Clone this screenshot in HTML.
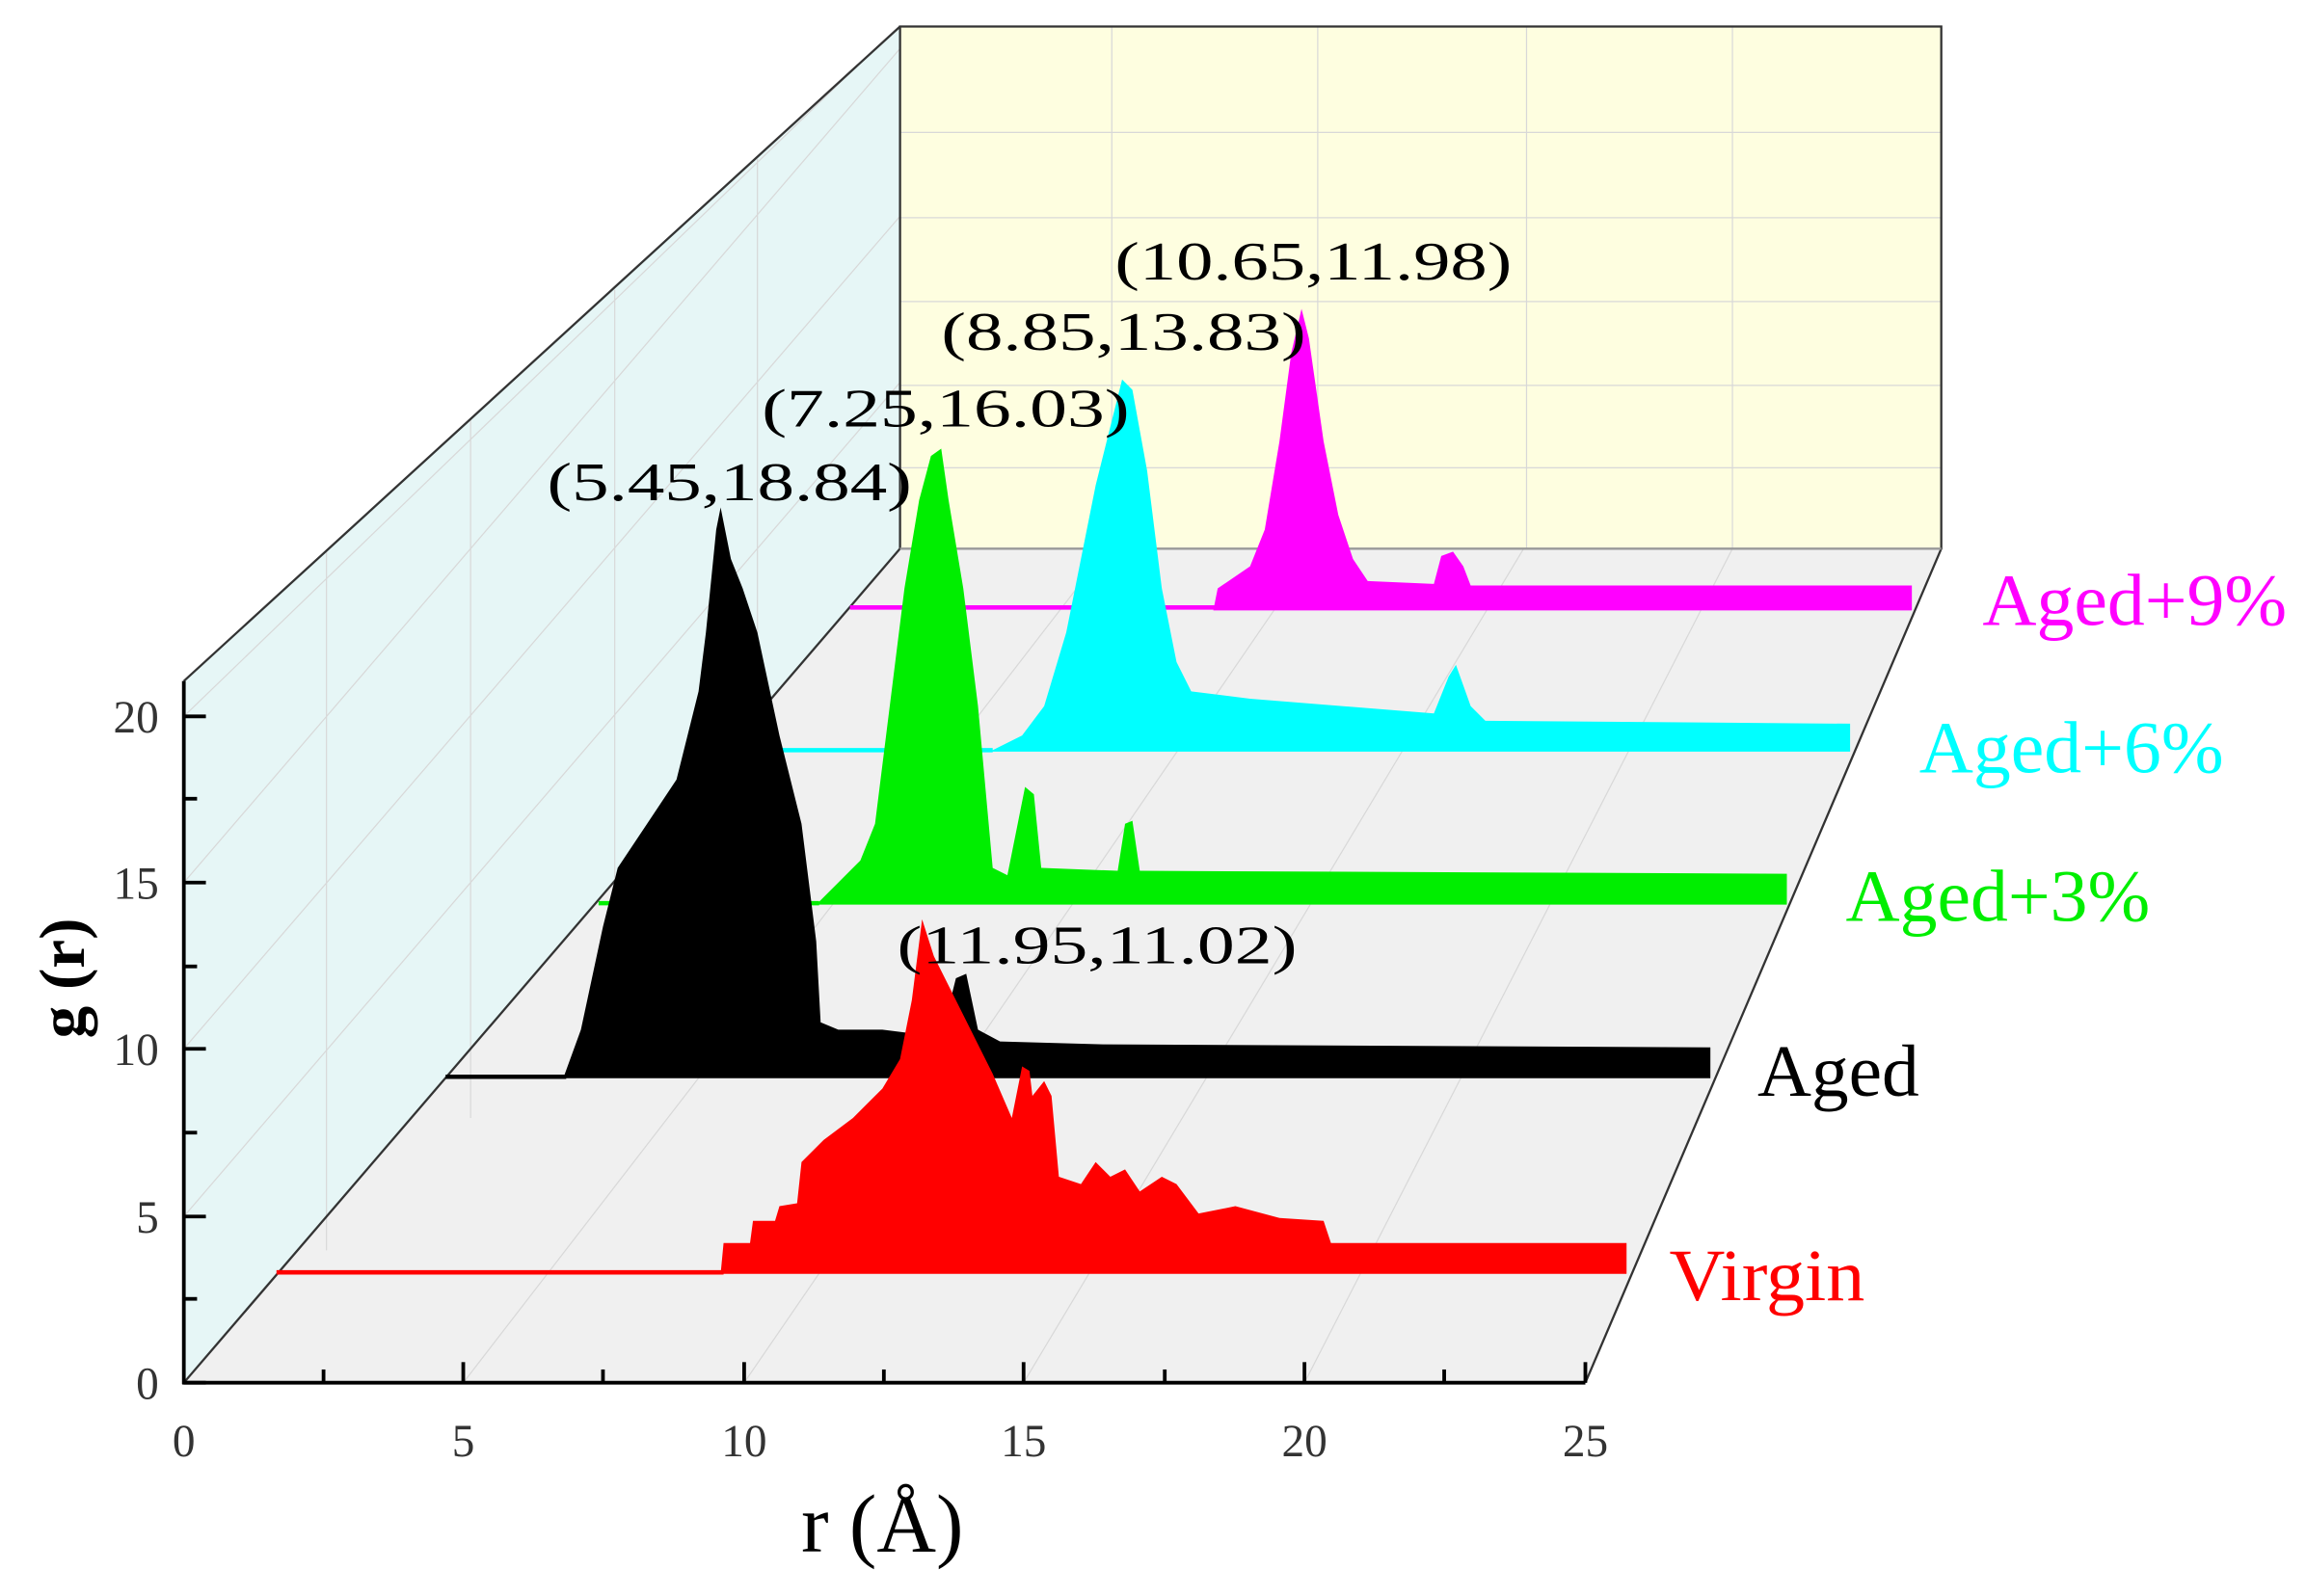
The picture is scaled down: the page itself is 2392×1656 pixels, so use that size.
<!DOCTYPE html>
<html><head><meta charset="utf-8"><style>html,body{margin:0;padding:0;background:#fff}svg{display:block}</style></head>
<body>
<svg width="2392" height="1656" viewBox="0 0 1568 1085" preserveAspectRatio="none" xmlns="http://www.w3.org/2000/svg" font-family="Liberation Serif, serif">
<polygon points="125,940 125,463 612,18 612,373" fill="#e6f6f6"/>
<polygon points="612,18 1320,18 1320,373 612,373" fill="#fefee0"/>
<polygon points="125,940 1078,940 1320,373 612,373" fill="#f0f0f0"/>
<g stroke="#d8d8d8" stroke-width="0.8" fill="none">
<line x1="756" y1="18" x2="756" y2="373"/><line x1="896" y1="18" x2="896" y2="373"/><line x1="1038" y1="18" x2="1038" y2="373"/><line x1="1178" y1="18" x2="1178" y2="373"/>
<line x1="612" y1="90" x2="1320" y2="90"/><line x1="612" y1="148" x2="1320" y2="148"/><line x1="612" y1="205" x2="1320" y2="205"/><line x1="612" y1="262" x2="1320" y2="262"/><line x1="612" y1="318" x2="1320" y2="318"/>
<line x1="315" y1="940" x2="753" y2="373"/><line x1="506" y1="940" x2="895" y2="373"/><line x1="696" y1="940" x2="1036" y2="373"/><line x1="887" y1="940" x2="1178" y2="373"/>
<line x1="125" y1="827" x2="612" y2="260"/><line x1="125" y1="713" x2="612" y2="147"/><line x1="125" y1="600" x2="612" y2="33"/><line x1="125" y1="487" x2="590" y2="38"/>
<line x1="222" y1="850" x2="222" y2="375"/><line x1="320" y1="760" x2="320" y2="285"/><line x1="418" y1="672" x2="418" y2="197"/><line x1="515" y1="585" x2="515" y2="108"/>
</g>
<g stroke="#333" stroke-width="1.5" fill="none">
<line x1="125" y1="940" x2="612" y2="373"/><line x1="125" y1="463" x2="612" y2="18"/>
<polyline points="612,373 612,18 1320,18 1320,373 1078,940"/><line x1="612" y1="373" x2="1320" y2="373" stroke="#999"/>
</g>
<line x1="578" y1="413" x2="826" y2="413" stroke="#ff00ff" stroke-width="3"/>
<polygon fill="#ff00ff" points="825,415 828,400 850,385 860,360 870,300 878,240 885,210 890,230 900,300 910,350 920,380 930,395 975,397 980,378 988,375 995,385 1000,398 1300,398 1300,415"/>
<line x1="530" y1="510" x2="675" y2="510" stroke="#00ffff" stroke-width="3"/>
<polygon fill="#00ffff" points="673,511 695,500 710,480 725,430 735,380 745,330 755,290 763,258 770,265 780,320 790,400 800,450 810,470 850,475 975,485 985,460 990,452 1000,480 1010,490 1258,492 1258,511"/>
<line x1="407" y1="614" x2="557" y2="614" stroke="#00ee00" stroke-width="3"/>
<polygon fill="#00ee00" points="555,615 570,600 585,585 595,560 605,480 615,400 625,340 633,310 640,305 645,340 655,400 665,480 675,590 685,595 692,560 697,535 703,540 708,590 760,592 765,560 770,558 775,592 1215,594 1215,615"/>
<line x1="303" y1="732" x2="385" y2="732" stroke="#000" stroke-width="3"/>
<polygon fill="#000" points="383,733 395,700 410,630 420,590 440,560 460,530 475,470 480,430 487,360 490,345 497,380 505,400 515,430 530,500 545,560 555,640 558,695 570,700 600,700 640,705 650,665 657,662 665,700 680,708 750,710 1163,712 1163,733"/>
<line x1="188" y1="865" x2="492" y2="865" stroke="#ff0000" stroke-width="3"/>
<polygon fill="#ff0000" points="490,866 492,845 510,845 512,830 527,830 530,820 542,818 545,790 560,775 580,760 600,740 612,720 620,680 627,625 635,650 645,670 660,700 675,730 688,760 695,725 700,728 702,745 710,735 715,745 720,800 735,805 745,790 755,800 765,795 775,810 790,800 800,805 815,825 840,820 870,828 900,830 905,845 1106,845 1106,866"/>
<g stroke="#000" stroke-width="2.5">
<line x1="125" y1="463" x2="125" y2="941"/><line x1="124" y1="940" x2="1078" y2="940"/>
<line x1="125" y1="940" x2="140" y2="940"/><line x1="125" y1="827" x2="140" y2="827"/><line x1="125" y1="713" x2="140" y2="713"/><line x1="125" y1="600" x2="140" y2="600"/><line x1="125" y1="487" x2="140" y2="487"/>
<line x1="125" y1="883" x2="134" y2="883"/><line x1="125" y1="770" x2="134" y2="770"/><line x1="125" y1="657" x2="134" y2="657"/><line x1="125" y1="543" x2="134" y2="543"/>
<line x1="315" y1="940" x2="315" y2="926"/><line x1="506" y1="940" x2="506" y2="926"/><line x1="696" y1="940" x2="696" y2="926"/><line x1="887" y1="940" x2="887" y2="926"/><line x1="1078" y1="940" x2="1078" y2="926"/>
<line x1="220" y1="940" x2="220" y2="931"/><line x1="410" y1="940" x2="410" y2="931"/><line x1="601" y1="940" x2="601" y2="931"/><line x1="792" y1="940" x2="792" y2="931"/><line x1="982" y1="940" x2="982" y2="931"/>
</g>
<g font-size="31" fill="#333" text-anchor="end">
<text x="108" y="951">0</text><text x="108" y="838">5</text><text x="108" y="724">10</text><text x="108" y="611">15</text><text x="108" y="498">20</text>
</g>
<g font-size="31" fill="#333" text-anchor="middle">
<text x="125" y="990">0</text><text x="315" y="990">5</text><text x="506" y="990">10</text><text x="696" y="990">15</text><text x="887" y="990">20</text><text x="1078" y="990">25</text>
</g>
<text x="600" y="1055" font-size="56" text-anchor="middle" fill="#000">r (Å)</text>
<text transform="translate(57,665) rotate(-90)" font-size="44" font-weight="bold" text-anchor="middle" fill="#000">g (r)</text>
<g font-size="37" fill="#000">
<text x="758" y="190" textLength="270" lengthAdjust="spacingAndGlyphs">(10.65,11.98)</text>
<text x="640" y="238" textLength="248" lengthAdjust="spacingAndGlyphs">(8.85,13.83)</text>
<text x="518" y="290" textLength="250" lengthAdjust="spacingAndGlyphs">(7.25,16.03)</text>
<text x="372" y="340" textLength="248" lengthAdjust="spacingAndGlyphs">(5.45,18.84)</text>
<text x="610" y="655" textLength="272" lengthAdjust="spacingAndGlyphs">(11.95,11.02)</text>
</g>
<g font-size="50">
<text x="1348" y="425" fill="#ff00ff" textLength="207" lengthAdjust="spacingAndGlyphs">Aged+9%</text>
<text x="1305" y="525" fill="#00ffff" textLength="207" lengthAdjust="spacingAndGlyphs">Aged+6%</text>
<text x="1255" y="626" fill="#00ee00" textLength="207" lengthAdjust="spacingAndGlyphs">Aged+3%</text>
<text x="1195" y="745" fill="#000" textLength="110" lengthAdjust="spacingAndGlyphs">Aged</text>
<text x="1135" y="884" fill="#ff0000" textLength="133" lengthAdjust="spacingAndGlyphs">Virgin</text>
</g>
</svg>
</body></html>
